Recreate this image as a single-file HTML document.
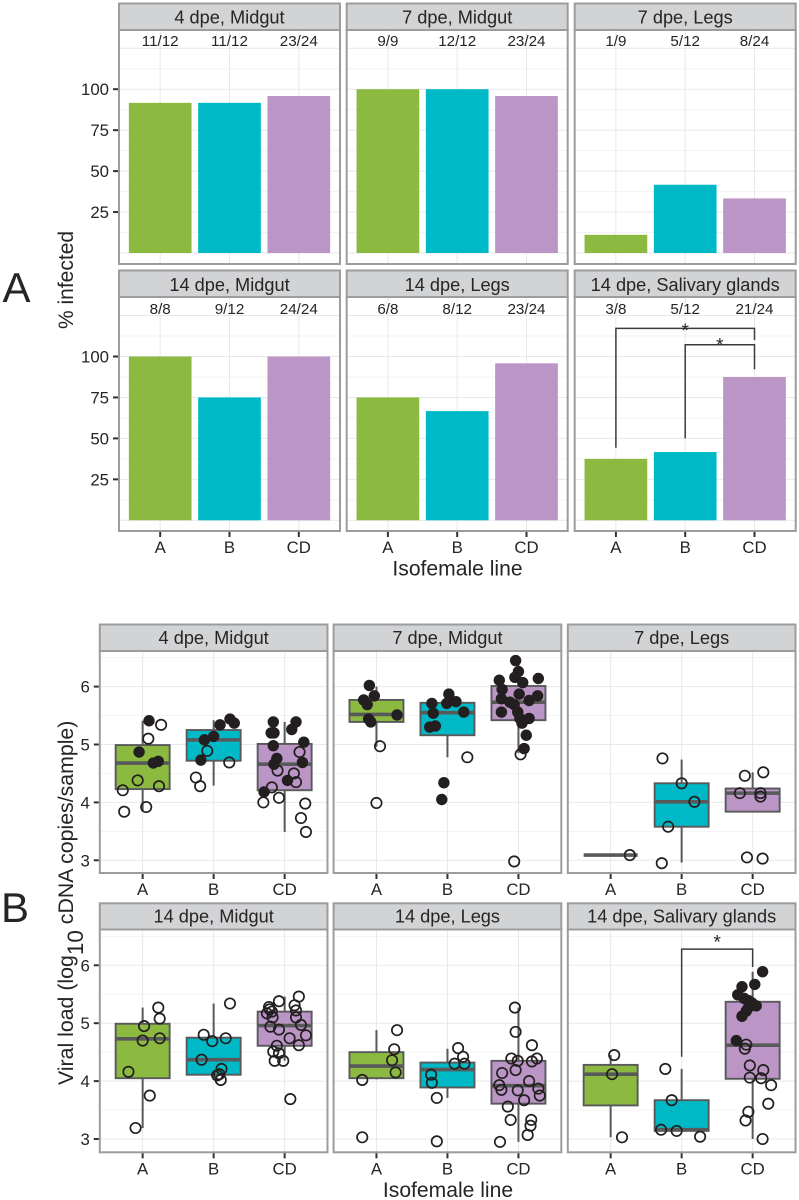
<!DOCTYPE html>
<html lang="en">
<head>
<meta charset="utf-8">
<title>Percent infected and viral load by isofemale line</title>
<style>
html,body{margin:0;padding:0;background:#fff;}
svg{display:block;}
text{font-family:"Liberation Sans",sans-serif;fill:#262425;}
</style>
</head>
<body>
<svg id="chart" xmlns="http://www.w3.org/2000/svg" width="799" height="1200" viewBox="0 0 799 1200">
<rect x="0" y="0" width="799" height="1200" fill="#fff"/>
<g id="layer"></g>
<text x="2.5" y="302" font-size="42">A</text>
<text x="1" y="922" font-size="42">B</text>
<text transform="translate(73,329) rotate(-90)" font-size="21">% infected</text>
<text x="457.5" y="575.5" font-size="21.1" text-anchor="middle">Isofemale line</text>
<text transform="translate(73,1085) rotate(-90)" font-size="21.3">Viral load (log<tspan dy="10" font-size="22.5">10</tspan><tspan dy="-10"> cDNA copies/sample)</tspan></text>
<text x="448" y="1197" font-size="21.1" text-anchor="middle">Isofemale line</text>
</svg>
<script>
// ---------- shared categories ----------
const categories = ['A', 'B', 'CD'];
const barColors = ['#8cba41', '#00b9c6', '#bb95c5'];

// ---------- top chart: percent infected ----------
const topTitles = ['4 dpe, Midgut', '7 dpe, Midgut', '7 dpe, Legs', '14 dpe, Midgut', '14 dpe, Legs', '14 dpe, Salivary glands'];
const pct4Midgut = [91.67, 91.67, 95.83];
const pct7Midgut = [100, 100, 95.83];
const pct7Legs = [11.11, 41.67, 33.33];
const pct14Midgut = [100, 75, 100];
const pct14Legs = [75, 66.67, 95.83];
const pct14Salivary = [37.5, 41.67, 87.5];
const frac4Midgut = ['11/12', '11/12', '23/24'];
const frac7Midgut = ['9/9', '12/12', '23/24'];
const frac7Legs = ['1/9', '5/12', '8/24'];
const frac14Midgut = ['8/8', '9/12', '24/24'];
const frac14Legs = ['6/8', '8/12', '23/24'];
const frac14Salivary = ['3/8', '5/12', '21/24'];
const pctTicks = [25, 50, 75, 100];
const pctGridMajor = [0, 25, 50, 75, 100, 125];
const pctGridMinor = [12.5, 37.5, 62.5, 87.5, 112.5];

// ---------- bottom chart: viral load ----------
const bottomTitles = ['4 dpe, Midgut', '7 dpe, Midgut', '7 dpe, Legs', '14 dpe, Midgut', '14 dpe, Legs', '14 dpe, Salivary glands'];
const loadTicks = [3, 4, 5, 6];
const loadGridMinor = [3.5, 4.5, 5.5, 6.5];
// boxes: [whisker low, q1, median, q3, whisker high] per category
const box4Midgut = [[3.84, 4.23, 4.68, 4.99, 5.41], [4.29, 4.72, 5.08, 5.25, 5.42], [3.49, 4.21, 4.66, 5.01, 5.39]];
const box7Midgut = [[4.96, 5.39, 5.52, 5.77, 6.0], [4.78, 5.16, 5.55, 5.72, 5.87], [4.85, 5.42, 5.73, 6.01, 6.45]];
const box7Legs = [[3.09, 3.09, 3.09, 3.09, 3.09], [2.96, 3.58, 4.01, 4.33, 4.74], [3.84, 3.84, 4.16, 4.24, 4.52]];
const box14Midgut = [[3.19, 4.05, 4.73, 4.99, 5.27], [4.02, 4.11, 4.37, 4.75, 5.34], [4.35, 4.61, 4.96, 5.20, 5.46]];
const box14Legs = [[4.03, 4.05, 4.26, 4.50, 4.88], [3.71, 3.89, 4.20, 4.32, 4.56], [2.95, 3.61, 3.92, 4.35, 5.27]];
const box14Salivary = [[3.03, 3.58, 4.12, 4.28, 4.45], [3.14, 3.14, 3.16, 3.67, 4.21], [3.0, 4.04, 4.62, 5.37, 5.89]];
// points: [jitter in category units, log10 load, 1 if filled]
const pts4MidgutA = [[.09,5.41,1],[.26,5.34,0],[.08,5.10,0],[-.05,4.87,1],[.22,4.71,1],[.15,4.68,1],[-.07,4.38,0],[.23,4.28,0],[-.28,4.21,0],[-.26,3.84,0],[.05,3.92,0]];
const pts4MidgutB = [[.23,5.44,1],[.29,5.37,1],[.09,5.34,1],[0,5.14,1],[-.13,5.08,1],[-.09,4.89,0],[-.18,4.73,1],[.22,4.69,0],[-.25,4.43,0],[-.19,4.28,0]];
const pts4MidgutCD = [[-.16,5.39,1],[.16,5.39,1],[.10,5.26,1],[-.19,5.2,1],[-.15,5.2,1],[.27,5.04,1],[-.16,4.98,1],[.21,4.87,0],[-.11,4.76,1],[-.15,4.66,1],[.25,4.69,1],[-.10,4.55,0],[.13,4.5,0],[.04,4.38,1],[.16,4.35,0],[-.18,4.26,0],[-.29,4.18,1],[-.08,4.08,0],[-.30,4.0,0],[.29,3.98,0],[.23,3.73,0],[.30,3.49,0]];
const pts7MidgutA = [[-.10,6.02,1],[-.03,5.84,1],[-.18,5.77,1],[-.13,5.69,1],[.29,5.51,1],[-.11,5.44,1],[-.08,5.39,1],[.05,4.97,0],[0,3.99,0]];
const pts7MidgutB = [[.02,5.87,1],[-.22,5.71,1],[-.01,5.71,1],[.12,5.74,1],[.23,5.56,1],[-.20,5.54,1],[-.17,5.32,1],[-.25,5.30,1],[-.05,4.34,1],[-.08,4.05,1],[.28,4.78,0]];
const pts7MidgutCD = [[-.04,6.45,1],[0,6.26,1],[-.05,6.16,1],[.28,6.14,1],[-.27,6.11,1],[.06,6.07,1],[-.23,5.95,1],[.01,5.87,1],[.27,5.84,1],[-.24,5.79,1],[.15,5.76,1],[-.12,5.73,1],[-.06,5.69,1],[-.24,5.56,1],[-.01,5.56,1],[.15,5.45,1],[.02,5.45,1],[.05,5.37,1],[.11,5.16,1],[.08,4.93,1],[.03,4.83,0],[-.06,2.98,0]];
const pts7LegsA = [[.27,3.09,0]];
const pts7LegsB = [[-.27,4.76,0],[0,4.33,0],[.18,4.01,0],[-.19,3.58,0],[-.28,2.95,0]];
const pts7LegsCD = [[.15,4.52,0],[-.11,4.46,0],[-.18,4.16,0],[.11,4.16,0],[.11,4.10,0],[-.08,3.05,0],[.14,3.03,0]];
const pts14MidgutA = [[.22,5.27,0],[.24,5.08,0],[.02,4.95,0],[.24,4.74,0],[0,4.70,0],[-.20,4.16,0],[.10,3.75,0],[-.10,3.19,0]];
const pts14MidgutB = [[.23,5.34,0],[-.14,4.80,0],[.17,4.74,0],[-.02,4.69,0],[-.17,4.37,0],[.11,4.21,0],[.08,4.12,0],[.05,4.10,0],[.10,4.02,0]];
const pts14MidgutCD = [[.20,5.46,0],[-.08,5.38,0],[.14,5.31,0],[-.22,5.28,0],[-.21,5.24,0],[.16,5.22,0],[-.18,5.2,0],[-.25,5.17,0],[-.17,5.10,0],[.16,5.10,0],[.23,4.97,0],[-.20,4.94,0],[-.08,4.89,0],[.30,4.79,0],[.07,4.74,0],[.20,4.62,0],[-.11,4.61,0],[-.16,4.51,0],[-.08,4.48,0],[-.14,4.35,0],[-.02,4.35,0],[.08,3.69,0]];
const pts14LegsA = [[.29,4.88,0],[.25,4.55,0],[.22,4.36,0],[.27,4.15,0],[-.20,4.02,0],[-.20,3.03,0]];
const pts14LegsB = [[.15,4.57,0],[.22,4.42,0],[.10,4.30,0],[.24,4.30,0],[-.23,4.11,0],[-.22,3.97,0],[-.15,3.71,0],[-.15,2.96,0]];
const pts14LegsCD = [[-.05,5.27,0],[-.04,4.85,0],[.19,4.62,0],[-.10,4.39,0],[.26,4.39,0],[-.01,4.35,0],[.19,4.34,0],[-.04,4.19,0],[-.23,4.14,0],[.15,4.0,0],[-.27,3.93,0],[-.24,3.85,0],[-.01,3.84,0],[.28,3.87,0],[.30,3.75,0],[.08,3.67,0],[-.15,3.56,0],[-.11,3.33,0],[.18,3.33,0],[.17,3.23,0],[.13,3.07,0],[-.26,2.95,0]];
const pts14SalivaryA = [[.05,4.45,0],[.02,4.12,0],[.16,3.03,0]];
const pts14SalivaryB = [[-.23,4.21,0],[-.14,3.67,0],[-.29,3.16,0],[-.07,3.14,0],[.26,3.04,0]];
const pts14SalivaryCD = [[.14,5.89,1],[.03,5.67,1],[-.15,5.63,1],[-.21,5.49,1],[-.12,5.43,1],[-.06,5.39,1],[-.01,5.35,1],[.05,5.30,1],[-.06,5.27,1],[-.09,5.21,1],[-.15,5.12,1],[-.23,4.70,1],[-.09,4.63,0],[-.11,4.56,0],[-.04,4.27,0],[.15,4.19,0],[-.04,4.06,0],[.12,4.05,0],[.26,3.93,0],[.22,3.61,0],[-.06,3.47,0],[-.10,3.32,0],[.14,3.0,0]];

// ---------- significance annotations: [from cat, to cat, top level, left foot, right foot] ----------
const topBrackets = [[0, 2, 117.2, 44.3, 110], [1, 2, 107.2, 50, 92.2]];
const bottomBrackets = [[1, 2, 6.28, 4.42, 5.97]];

// groupings by panel
const topPct = [pct4Midgut, pct7Midgut, pct7Legs, pct14Midgut, pct14Legs, pct14Salivary];
const topFrac = [frac4Midgut, frac7Midgut, frac7Legs, frac14Midgut, frac14Legs, frac14Salivary];
const bottomBoxes = [box4Midgut, box7Midgut, box7Legs, box14Midgut, box14Legs, box14Salivary];
const bottomPts = [
  [pts4MidgutA, pts4MidgutB, pts4MidgutCD],
  [pts7MidgutA, pts7MidgutB, pts7MidgutCD],
  [pts7LegsA, pts7LegsB, pts7LegsCD],
  [pts14MidgutA, pts14MidgutB, pts14MidgutCD],
  [pts14LegsA, pts14LegsB, pts14LegsCD],
  [pts14SalivaryA, pts14SalivaryB, pts14SalivaryCD]
];

const NS = 'http://www.w3.org/2000/svg';
const layer = document.getElementById('layer');
function mk(tag, attrs, parent) {
  const el = document.createElementNS(NS, tag);
  for (const k in attrs) el.setAttribute(k, attrs[k]);
  (parent || layer).appendChild(el);
  return el;
}
const INK = '#333233', BOXLINE = '#58595b', BORDER = '#9b9c9e', STRIP = '#d1d3d4';
const GRID = '#e8e8e9', GRIDMINOR = '#f3f3f3';

function drawFrame(g, L, W, stripTop, stripBottom, panelBottom, title, titleBase) {
  const strip = mk('rect', {x: L, y: stripTop, width: W, height: stripBottom - stripTop, fill: STRIP, stroke: BORDER, 'stroke-width': 2}, g);
  
  
  const t = mk('text', {x: L + W / 2, y: titleBase, 'font-size': 18.2, 'text-anchor': 'middle'}, g);
  t.textContent = title;
  
  
}
function drawBorder(g, L, W, stripBottom, panelBottom) {
  const b = mk('rect', {x: L, y: stripBottom, width: W, height: panelBottom - stripBottom, fill: 'none', stroke: BORDER, 'stroke-width': 2}, g);
  
  
}
function hGrid(g, L, W, y, color, w) {
  const l = mk('line', {x1: L, x2: L + W, y1: y, y2: y, stroke: color, 'stroke-width': w}, g);
  
  
}
function vGrid(g, x, top, bottom) {
  const l = mk('line', {x1: x, x2: x, y1: top, y2: bottom, stroke: GRID, 'stroke-width': 1}, g);
  
  
}
function xTick(g, x, panelBottom, label) {
  const l = mk('line', {x1: x, x2: x, y1: panelBottom + 1, y2: panelBottom + 6, stroke: INK, 'stroke-width': 2}, g);
  
  
  const t = mk('text', {x: x, y: panelBottom + 22, 'font-size': 16.8, 'text-anchor': 'middle'}, g);
  t.textContent = label;
  
  
}
function yTick(g, L, y, label) {
  const l = mk('line', {x1: L - 6, x2: L - 1, y1: y, y2: y, stroke: INK, 'stroke-width': 2}, g);
  
  
  const t = mk('text', {x: L - 10, y: y + 6, 'font-size': 16.8, 'text-anchor': 'end'}, g);
  t.textContent = label;
  
  
}
function drawBracket(g, xa, xb, yTop, yLeft, yRight) {
  const p = mk('path', {d: 'M' + xa + ' ' + yLeft + 'V' + yTop + 'H' + xb + 'V' + yRight, fill: 'none', stroke: '#3c3b3c', 'stroke-width': 1.5}, g);
  
  
}
function drawStar(g, x, y) {
  const t = mk('text', {x: x, y: y, 'font-size': 19, 'text-anchor': 'middle'}, g);
  t.textContent = '*';
  
  
}

// ---------- top chart ----------
(function () {
  const lefts = [119, 346.7, 574.7], W = 221, step = 69.3, barW = 62.7;
  const rows = [
    {stripTop: 3.5, stripBottom: 30, bottom: 264, zero: 253, titleBase: 23.3, fracBase: 46},
    {stripTop: 270.5, stripBottom: 297, bottom: 531, zero: 520.3, titleBase: 291, fracBase: 314}
  ];
  const unit = 1.638;
  topTitles.forEach(function (title, idx) {
    const col = idx % 3, row = rows[Math.floor(idx / 3)], L = lefts[col];
    const x = function (i) { return L + W / 2 + (i - 1) * step; };
    const y = function (v) { return row.zero - unit * v; };
    const g = mk('g', {});
    
    
    pctGridMinor.forEach(function (v) { hGrid(g, L, W, y(v), GRIDMINOR, 1); });
    pctGridMajor.forEach(function (v) { hGrid(g, L, W, y(v), GRID, 1); });
    categories.forEach(function (c, i) { vGrid(g, x(i), row.stripBottom, row.bottom); });
    topPct[idx].forEach(function (v, i) {
      const r = mk('rect', {x: x(i) - barW / 2, y: y(v), width: barW, height: unit * v, fill: barColors[i]}, g);
      
      
    });
    topFrac[idx].forEach(function (s, i) {
      const t = mk('text', {x: x(i), y: row.fracBase, 'font-size': 15.2, 'text-anchor': 'middle'}, g);
      t.textContent = s;
      
      
    });
    if (idx === 5) {
      topBrackets.forEach(function (b, n) {
        drawBracket(g, x(b[0]), x(b[1]), y(b[2]), y(b[3]), y(b[4]));
        drawStar(g, (x(b[0]) + x(b[1])) / 2, y(b[2]) + (n === 0 ? 8.5 : 7));
      });
    }
    drawFrame(g, L, W, row.stripTop, row.stripBottom, row.bottom, title, row.titleBase);
    drawBorder(g, L, W, row.stripBottom, row.bottom);
    if (col === 0) pctTicks.forEach(function (v) { yTick(g, L, y(v), String(v)); });
    if (idx >= 3) categories.forEach(function (c, i) { xTick(g, x(i), row.bottom, c); });
  });
})();

// ---------- bottom chart ----------
(function () {
  const lefts = [99.8, 333.6, 567.8], W = 227.7, step = 71, boxW = 54, unit = 57.9;
  const rows = [
    {stripTop: 624.5, stripBottom: 651, bottom: 873, three: 860.3, titleBase: 644},
    {stripTop: 903.3, stripBottom: 929.5, bottom: 1152.3, three: 1139, titleBase: 922.3}
  ];
  bottomTitles.forEach(function (title, idx) {
    const col = idx % 3, row = rows[Math.floor(idx / 3)], L = lefts[col];
    const x = function (i) { return L + W / 2 + (i - 1) * step; };
    const y = function (v) { return row.three - unit * (v - 3); };
    const g = mk('g', {});
    
    
    loadGridMinor.forEach(function (v) { hGrid(g, L, W, y(v), GRIDMINOR, 1); });
    loadTicks.forEach(function (v) { hGrid(g, L, W, y(v), GRID, 1); });
    categories.forEach(function (c, i) { vGrid(g, x(i), row.stripBottom, row.bottom); });
    bottomBoxes[idx].forEach(function (b, i) {
      const up = mk('line', {x1: x(i), x2: x(i), y1: y(b[3]), y2: y(b[4]), stroke: BOXLINE, 'stroke-width': 2}, g);
      
      
      const down = mk('line', {x1: x(i), x2: x(i), y1: y(b[1]), y2: y(b[0]), stroke: BOXLINE, 'stroke-width': 2}, g);
      
      
      const r = mk('rect', {x: x(i) - boxW / 2, y: y(b[3]), width: boxW, height: y(b[1]) - y(b[3]), fill: barColors[i], stroke: BOXLINE, 'stroke-width': 1.9}, g);
      
      
      const m = mk('line', {x1: x(i) - boxW / 2, x2: x(i) + boxW / 2, y1: y(b[2]), y2: y(b[2]), stroke: BOXLINE, 'stroke-width': 3.6}, g);
      
      
    });
    bottomPts[idx].forEach(function (series, i) {
      series.forEach(function (p) {
        const cx = x(i) + p[0] * step, cy = y(p[1]);
        const c = p[2]
          ? mk('circle', {cx: cx, cy: cy, r: 5.7, fill: '#231f20'}, g)
          : mk('circle', {cx: cx, cy: cy, r: 5.2, fill: 'none', stroke: '#231f20', 'stroke-width': 1.7}, g);
        
        
      });
    });
    if (idx === 5) {
      bottomBrackets.forEach(function (b) {
        drawBracket(g, x(b[0]), x(b[1]), y(b[2]), y(b[3]), y(b[4]));
        drawStar(g, (x(b[0]) + x(b[1])) / 2, y(b[2]) - 0.5);
      });
    }
    drawFrame(g, L, W, row.stripTop, row.stripBottom, row.bottom, title, row.titleBase);
    drawBorder(g, L, W, row.stripBottom, row.bottom);
    if (col === 0) loadTicks.forEach(function (v) { yTick(g, L, y(v), String(v)); });
    categories.forEach(function (c, i) { xTick(g, x(i), row.bottom, c); });
  });
})();
</script>
</body>
</html>
